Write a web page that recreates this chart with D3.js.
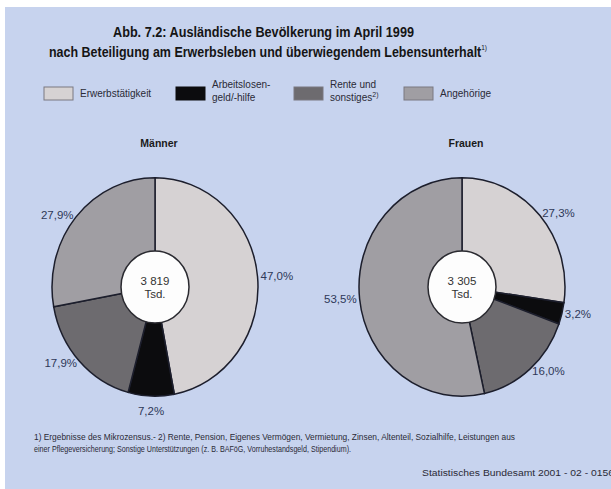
<!DOCTYPE html>
<html>
<head>
<meta charset="utf-8">
<script src="https://cdn.jsdelivr.net/npm/d3@7"></script>
<style>
  body { margin: 0; background: #fff; }
  text { font-family: "Liberation Sans", Arial, sans-serif; }
</style>
</head>
<body>
<div id="chart"></div>
<script>
// data
var categories = ["Erwerbstätigkeit", "Arbeitslosengeld/-hilfe", "Rente und sonstiges", "Angehörige"];
var maennerValues = [47.0, 7.2, 17.9, 27.9];
var frauenValues = [27.3, 3.2, 16.0, 53.5];
var totals = ["3 819", "3 305"];
var groups = ["Männer", "Frauen"];

var colors = ["#d6d2d3", "#0c0c0e", "#6d6b6f", "#a09ea3"];
var bg = "#c7d3ee";
var labelColor = "#2e3858";

var W = 611, H = 489;
var svg = d3.select("#chart").append("svg")
    .attr("width", W).attr("height", H);

svg.append("rect").attr("x", 5).attr("y", 7)
    .attr("width", W - 5).attr("height", H - 7).attr("fill", bg);

// title
var title = svg.append("g").attr("fill", "#151515")
    .attr("font-weight", "bold").attr("font-size", 14.5);
title.append("text").attr("x", 113).attr("y", 37)
    .attr("textLength", 301).attr("lengthAdjust", "spacingAndGlyphs")
    .text("Abb. 7.2: Ausländische Bevölkerung im April 1999");
var t2 = title.append("text").attr("x", 49).attr("y", 57)
    .attr("textLength", 438).attr("lengthAdjust", "spacingAndGlyphs");
t2.append("tspan").text("nach Beteiligung am Erwerbsleben und überwiegendem Lebensunterhalt");
t2.append("tspan").attr("font-size", 7.5).attr("font-weight", "normal").attr("dy", -7).text("1)");

// legend
var legendItems = [
  {x: 44, lines: ["Erwerbstätigkeit"]},
  {x: 176, lines: ["Arbeitslosen-", "geld/-hilfe"]},
  {x: 294, lines: ["Rente und", "sonstiges"]},
  {x: 404, lines: ["Angehörige"]}
];
var lg = svg.append("g").attr("font-size", 10).attr("fill", "#2a2a36");
legendItems.forEach(function(d, i) {
  lg.append("rect").attr("x", d.x).attr("y", 87).attr("width", 29).attr("height", 13)
    .attr("fill", colors[i]).attr("stroke", i == 1 ? "#0c0c0e" : "#7a7880").attr("stroke-width", 1);
  if (d.lines.length == 1) {
    lg.append("text").attr("x", d.x + 36).attr("y", 97).text(d.lines[0]);
  } else {
    lg.append("text").attr("x", d.x + 36).attr("y", 88).text(d.lines[0]);
    var tx = lg.append("text").attr("x", d.x + 36).attr("y", 101);
    tx.append("tspan").text(d.lines[1]);
    if (i == 2) tx.append("tspan").attr("font-size", 7).attr("dy", -4).text("2)");
  }
});

// pies
var r = 103, ry = 1.06, rInner = 34;
var centers = [155, 462], cy = 287;
var pie = d3.pie().sort(null).value(function(d) { return d; });
var arc = d3.arc().innerRadius(0).outerRadius(r);

[maennerValues, frauenValues].forEach(function(vals, gi) {
  var cx = centers[gi];

  svg.append("text").attr("x", cx + 4).attr("y", 147)
    .attr("text-anchor", "middle").attr("font-weight", "bold").attr("font-size", 10.5)
    .attr("fill", "#1a1a1a").text(groups[gi]);

  var g = svg.append("g").attr("transform", "translate(" + cx + "," + cy + ") scale(1," + ry + ")");
  var arcs = pie(vals);

  g.selectAll("path").data(arcs).enter().append("path")
    .attr("d", arc)
    .attr("fill", function(d, i) { return colors[i]; })
    .attr("stroke", "#1c1e2c").attr("stroke-width", 1.5)
    .attr("vector-effect", "non-scaling-stroke");

  g.append("circle").attr("r", rInner).attr("fill", "#fdfdfd")
    .attr("stroke", "#2a2a30").attr("stroke-width", 1.5)
    .attr("vector-effect", "non-scaling-stroke");

  svg.append("text").attr("x", cx).attr("y", 285).attr("text-anchor", "middle")
    .attr("font-size", 11.5).attr("fill", "#333").text(totals[gi]);
  svg.append("text").attr("x", cx).attr("y", 298).attr("text-anchor", "middle")
    .attr("font-size", 11.5).attr("fill", "#333").text("Tsd.");

  // percent labels outside
  arcs.forEach(function(d, i) {
    var a = (d.startAngle + d.endAngle) / 2;
    var sx = Math.sin(a), sy = -Math.cos(a);
    var lr = r + 3;
    var x = cx + sx * lr, y = cy + sy * lr * ry + 4;
    var anchor = Math.abs(sx) < 0.3 ? "middle" : (sx > 0 ? "start" : "end");
    if (anchor == "middle") y += sy * 12;
    svg.append("text").attr("x", x).attr("y", y).attr("text-anchor", anchor)
      .attr("font-size", 11.5).attr("fill", labelColor)
      .text(d3.format(".1f")(d.data).replace(".", ",") + "%");
  });
});

// footnotes
var fn = svg.append("g").attr("font-size", 9).attr("fill", "#2a2a36");
fn.append("text").attr("x", 34).attr("y", 440).attr("textLength", 481).attr("lengthAdjust", "spacingAndGlyphs")
  .text("1) Ergebnisse des Mikrozensus.- 2) Rente, Pension, Eigenes Vermögen, Vermietung, Zinsen, Altenteil, Sozialhilfe, Leistungen aus");
fn.append("text").attr("x", 34).attr("y", 452).attr("textLength", 317).attr("lengthAdjust", "spacingAndGlyphs")
  .text("einer Pflegeversicherung; Sonstige Unterstützungen (z. B. BAFöG, Vorruhestandsgeld, Stipendium).");
fn.append("text").attr("x", 422).attr("y", 476).attr("font-size", 8.5).attr("textLength", 192).attr("lengthAdjust", "spacingAndGlyphs")
  .text("Statistisches Bundesamt 2001 - 02 - 0156");
</script>
</body>
</html>
